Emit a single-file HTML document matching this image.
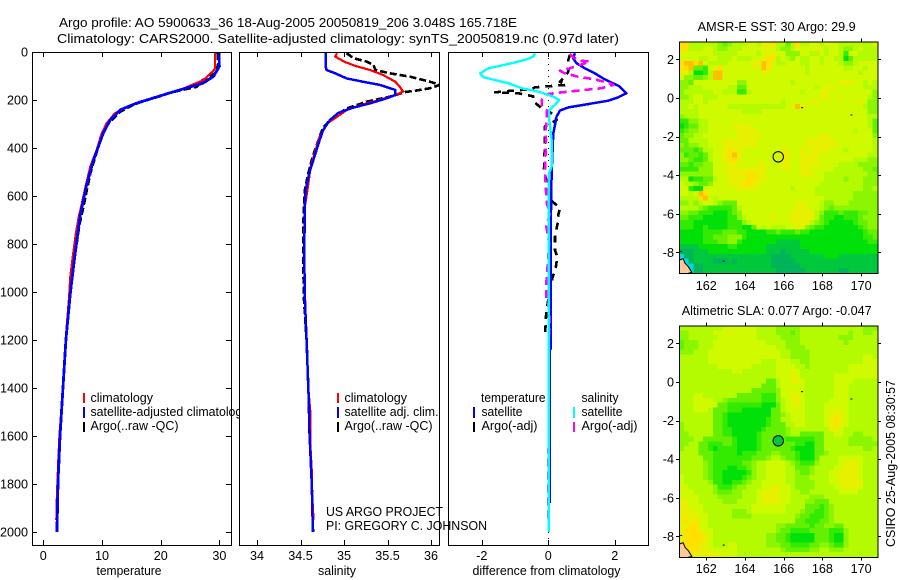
<!DOCTYPE html>
<html>
<head>
<meta charset="utf-8">
<title>Argo profile 5900633_36</title>
<style>
html,body{margin:0;padding:0;background:#fff;}
svg{display:block;}
text{font-family:"Liberation Sans",sans-serif;font-size:12.6px;fill:#000;}
</style>
</head>
<body>
<svg id="chart" xmlns="http://www.w3.org/2000/svg" width="900" height="580" viewBox="0 0 900 580">
  <rect x="0" y="0" width="900" height="580" fill="#fff"/>
  <text x="59" y="27" textLength="458" lengthAdjust="spacingAndGlyphs">Argo profile: AO 5900633_36 18-Aug-2005 20050819_206 3.048S 165.718E</text>
  <text x="57" y="43" textLength="562" lengthAdjust="spacingAndGlyphs">Climatology: CARS2000. Satellite-adjusted climatology: synTS_20050819.nc (0.97d later)</text>
  <g id="layer-temp"></g>
  <g id="legend-temp">
    <rect x="83" y="393" width="2" height="10" fill="#f00"/>
    <rect x="83" y="407" width="2" height="11" fill="#00f"/>
    <rect x="83" y="422" width="2" height="10" fill="#000"/>
    <text x="90.5" y="402" textLength="62.5" lengthAdjust="spacingAndGlyphs">climatology</text>
    <text x="90.5" y="416" textLength="158" lengthAdjust="spacingAndGlyphs">satellite-adjusted climatology</text>
    <text x="90.5" y="430" textLength="88" lengthAdjust="spacingAndGlyphs">Argo(..raw -QC)</text>
  </g>
  <g id="layer-sal"></g>
  <g id="legend-sal">
    <rect x="337" y="393" width="2" height="10" fill="#f00"/>
    <rect x="337" y="407" width="2" height="11" fill="#00f"/>
    <rect x="337" y="422" width="2" height="10" fill="#000"/>
    <text x="344.5" y="402" textLength="62.5" lengthAdjust="spacingAndGlyphs">climatology</text>
    <text x="344.5" y="416" textLength="94" lengthAdjust="spacingAndGlyphs">satellite adj. clim.</text>
    <text x="344.5" y="430" textLength="88" lengthAdjust="spacingAndGlyphs">Argo(..raw -QC)</text>
  </g>
  <g id="layer-diff"></g>
  <g id="legend-diff">
    <text x="481" y="402" textLength="64.5" lengthAdjust="spacingAndGlyphs">temperature</text>
    <rect x="473" y="407" width="2" height="11" fill="#00f"/>
    <text x="481.5" y="416" textLength="41" lengthAdjust="spacingAndGlyphs">satellite</text>
    <rect x="473" y="422" width="2" height="10" fill="#000"/>
    <text x="481.5" y="430" textLength="56" lengthAdjust="spacingAndGlyphs">Argo(-adj)</text>
    <text x="581.5" y="402" textLength="37" lengthAdjust="spacingAndGlyphs">salinity</text>
    <rect x="573" y="407" width="2" height="11" fill="#0ff"/>
    <text x="581.5" y="416" textLength="41" lengthAdjust="spacingAndGlyphs">satellite</text>
    <rect x="573" y="422" width="2" height="10" fill="#f0f"/>
    <text x="581.5" y="430" textLength="56" lengthAdjust="spacingAndGlyphs">Argo(-adj)</text>
  </g>
  <text x="326" y="516" textLength="117" lengthAdjust="spacingAndGlyphs">US ARGO PROJECT</text>
  <text x="326" y="530" textLength="161" lengthAdjust="spacingAndGlyphs">PI: GREGORY C. JOHNSON</text>
  <text x="129" y="575" text-anchor="middle" textLength="65" lengthAdjust="spacingAndGlyphs">temperature</text>
  <text x="337" y="575" text-anchor="middle" textLength="38" lengthAdjust="spacingAndGlyphs">salinity</text>
  <text x="546.5" y="575" text-anchor="middle" textLength="148" lengthAdjust="spacingAndGlyphs">difference from climatology</text>
  <text x="776.7" y="31" text-anchor="middle" textLength="158" lengthAdjust="spacingAndGlyphs">AMSR-E SST: 30 Argo: 29.9</text>
  <text x="776.7" y="315" text-anchor="middle" textLength="190" lengthAdjust="spacingAndGlyphs">Altimetric SLA: 0.077 Argo: -0.047</text>
  <g id="layer-sst"></g>
  <g id="layer-sla"></g>
  <text transform="translate(895,547) rotate(-90)" textLength="167" lengthAdjust="spacingAndGlyphs">CSIRO 25-Aug-2005 08:30:57</text>
</svg>
<script>
// ---- Profile data: pressure (dbar) and value arrays ----
const tempTicks = [0, 10, 20, 30];
const salTicks = [34, 34.5, 35, 35.5, 36];
const diffTicks = [-2, 0, 2];
const depthTicks = [0, 200, 400, 600, 800, 1000, 1200, 1400, 1600, 1800, 2000];

const tempClimDepth = [0,70,80,117,158,179,200,227,255,297,339,408,478,561,617,686,755,866,936,1019,1200,1400,1500,1600,1700,1800,1900,1950];
const tempClimVals = [29.25,29.25,28.9,27.3,23.3,20.4,17.6,14.5,12.2,10.8,9.95,9.1,8,7.2,6.7,6.05,5.55,4.95,4.6,4.4,3.8,3.3,3.05,2.75,2.56,2.4,2.25,2.22];
const tempSatDepth = [0,60,102,130,150,170,192,213,241,283,339,450,561,686,825,964,1019,1200,1400,1500,1600,1700,1800,1900,2000];
const tempSatVals = [29.9,30,29,27.2,24.4,21.6,18.7,15.9,13.1,11.4,10.2,8.55,7.3,6.25,5.5,4.8,4.55,3.85,3.35,3.1,2.85,2.65,2.5,2.4,2.33];
const tempArgoDepth = [4,50,70,90,120,145,160,170,180,205,220,250,305,370,505,658,725,895,1019,1200,1400,1600,1800,2000];
const tempArgoVals = [29.7,29.8,29.6,29.2,27,26.1,23.2,21.6,20.4,17,15.3,13,10.8,9.66,8,6.7,6.1,5.1,4.5,3.85,3.35,2.85,2.5,2.33];

const salClimDepth = [5,19,40,58,75,96,124,144,165,179,200,220,242,270,297,353,478,575,644,800,1000,1200,1400,1500,1650,1750,1850,1950];
const salClimVals = [34.92,34.9,35,35.13,35.3,35.45,35.59,35.64,35.68,35.59,35.41,35.2,35.03,34.92,34.81,34.72,34.617,34.58,34.55,34.54,34.55,34.57,34.59,34.613,34.615,34.63,34.635,34.65];
const salSatDepth = [0,61,75,89,110,124,137,158,179,193,214,235,255,283,325,367,436,505,575,644,783,894,1033,1200,1400,1500,1600,1700,1800,1900,2000];
const salSatVals = [34.79,34.79,34.8,34.9,35.03,35.22,35.41,35.59,35.59,35.49,35.3,35.07,34.93,34.84,34.76,34.72,34.66,34.6,34.56,34.55,34.545,34.545,34.55,34.57,34.59,34.6,34.605,34.617,34.63,34.635,34.644];
const salArgoDepth = [5,26,40,54,75,89,103,124,137,151,160,167,186,207,235,283,318,436,505,575,644,742,853,1033,1200,1400,1600,1800,2000];
const salArgoVals = [35.03,35.11,35.26,35.34,35.36,35.53,35.76,35.99,36.1,35.99,35.84,35.7,35.53,35.26,35.03,34.84,34.755,34.64,34.59,34.55,34.54,34.53,34.53,34.54,34.57,34.59,34.605,34.63,34.644];

const diffSalSatDepth = [5,19,33,50,68,89,105,117,130,151,165,186,200,220,244,283,367,478,505,644,1200,2000];
const diffSalSatVals = [-0.4,-0.45,-0.7,-1.2,-1.8,-2.05,-1.95,-1.6,-1.2,-0.8,-0.3,0.15,0.33,0.2,0.02,0.03,0.1,0.1,0.02,0.01,0.01,0.01];
const diffTempSatDepth = [5,26,47,68,89,110,124,144,172,189,203,217,231,244,269,339,505,672,1054,1060,1237,1240,1880];
const diffTempSatVals = [0.8,0.75,0.85,1.1,1.4,1.65,1.85,2.15,2.35,2.1,1.8,1.2,0.6,0.35,0.25,0.15,0.1,0.08,0.08,0.07,0.07,0.05,0.04];
const diffSalArgoDepth = [8,22,36,40,54,68,78,89,103,114,128,137,151,158,165,175,200,221,242,283,325,367,492,575,617,630,672,728,797,964,1019,1082,1137,1179,1200,1950];
const diffSalArgoVals = [0.65,0.75,0.95,1.25,0.95,0.65,0.35,0.5,0.9,1.4,1.8,1.95,1.6,1.1,0.6,0,-0.2,-0.2,-0.05,-0.05,-0.08,-0.07,-0.1,-0.07,-0.05,-0.05,0.05,-0.06,0.03,-0.06,-0.06,0.04,0.04,0.03,0.02,0];
const diffTempArgoDepth = [12,33,68,82,103,124,137,147,155,160,168,172,185,205,235,262,283,310,367,492,617,651,679,714,769,825,853,894,943,1012,1075,1137,1176,1185,1880];
const diffTempArgoVals = [0.65,0.6,0.62,0.6,0.5,0.35,0.55,-0.4,-0.5,-1,-1.6,-0.9,-0.45,-0.45,-0.2,0.2,0.25,-0.1,-0.1,-0.13,0.08,0.35,0.3,0.28,0.2,0.2,0.27,0.23,0.12,0.03,-0.06,-0.08,-0.1,0.03,0.03];

// ---- Map data: one character per 0.25-degree cell, level index into mapLevels ----
const mapLevels = "c0123456789A";
const sstRows = [
"9966666654 5666776889 6646966776 7776666666 7",
"9966677655 6667777887 6556877787 6776556766 6",
"8777777666 6677776788 7755577667 6776377666 6",
"7777667766 6766677899 6765766776 7766246666 6",
"9AA9A76666 7777788A97 6677766776 7776556777 7",
"99A4437797 7777787A97 7777776777 7777667767 7",
"8862236AA7 7777777877 7777776777 7777777677 7",
"7554456AA7 7777777777 7777777777 7777777777 7",
"5547777777 7755777777 7776777777 7778887767 6",
"5566677777 6644777777 7777777767 8877777766 6",
"5666666776 6633677777 7777767778 8777777777 5",
"5567766677 7777777777 7777777778 8778777776 5",
"6667767777 7777777777 7677777887 7777777875 5",
"6676777777 6666666666 6677A87777 7777777765 5",
"6666777777 7776666777 7777777777 7777777775 5",
"5666777777 7777777777 7777777777 7777777776 6",
"3355667777 7777777777 7777777777 7777777776 4",
"2344667777 7888877777 7777777777 7777777776 4",
"3455667777 7788887777 7777777777 7777776777 4",
"4556677777 7788888777 7777777778 8777777777 5",
"4466667778 8888887777 7777778888 8877777777 6",
"5455667778 8888887777 7777778888 8887777777 6",
"4443466778 9887777777 7887787888 8777677777 6",
"5344346778 9A87777777 7887788887 7777777776 6",
"5543346778 9987777777 7887788887 7777776665 5",
"4434455777 8877778877 7887788887 7776666555 5",
"3333555778 8888888877 7787788777 7766666655 4",
"5555555777 8888998877 7777788877 6666666665 5",
"6623344677 8888998877 7777777777 6666566655 5",
"7665445777 8889988777 7777777776 6666666655 5",
"7732277777 7788887777 7776777766 6666666655 6",
"7767A97777 7777777777 7777777766 6666665555 5",
"66669A7677 7777777777 7777777777 6666665555 5",
"5565677654 4477777777 7777887776 5566655555 5",
"6666543333 3467777777 7777888776 5455555555 5",
"5544333222 3457777777 7778888865 3334333445 5",
"4433322222 3356777778 7778888864 3322333455 5",
"3332222222 3335677777 7778888654 3222223445 5",
"3332232222 3332247676 6677885433 2222222345 5",
"2222233334 4433222233 4333433222 2222222234 4",
"2222233444 5553222222 2222222222 2222222233 4",
"2222233344 5532222222 1111122222 2222222223 3",
"1111222222 3322222211 1111122222 2222222222 2",
"0001112222 2222222211 1011111222 2222222222 2",
"c001111111 1111111110 0001111111 2221111111 1",
"cc01111000 1011111110 0000111111 1111111111 1",
"ccc0011111 1111111110 0000011111 1111111111 1",
"ccc0011111 1111111111 0000001111 1110011111 1"
];
const slaRows = [
"6666666667 7777776666 5555566666 6666666655 5",
"5566666777 8777776666 5554566666 6666656655 6",
"5566666677 7777776666 6555566666 6665556666 6",
"4555666777 7777777766 6655566666 6666566666 6",
"4555666777 7777777777 6655556666 6666666666 6",
"5556667777 7777777777 7665555666 6666666666 6",
"6666667777 7777777777 7665555666 6666666677 6",
"6666667777 7777777666 7776655666 6666666677 7",
"6666666677 7777766666 7777665666 6666677777 7",
"6666666666 6776666666 7778766666 6666677777 7",
"6666666666 6666666666 7778766666 6677777777 7",
"6666666666 6666666644 6778876666 6677776666 6",
"6666666666 6666666444 6777776666 6677766666 6",
"6666666666 6666644444 5777776666 6677766666 6",
"6667766666 6644444333 5778876666 6677766666 6",
"6667777665 4444444333 5678876666 6777766666 6",
"6667777744 3333333222 4677876666 7777766666 6",
"6667776444 3332222224 4677776666 7787766666 6",
"6666666443 2222222224 4567776666 7888766666 6",
"6666666443 2222222234 4667776666 7898766666 6",
"5666666443 2222222234 4466776666 7898766666 6",
"5666666443 3222222344 4456666666 6887666666 6",
"5566666443 3222223444 4456644444 6677665566 6",
"5556644444 4322223444 4433333344 6666655555 6",
"5566443334 4322223444 4444332244 6666655555 5",
"5666443233 3322223444 4443222244 6666666655 6",
"6666444333 3323334445 5444322244 5666666666 6",
"6666644333 3333344456 6544322246 6667777766 6",
"6666654333 3334456677 7765433356 6667888766 6",
"6666654333 2233456677 7766444566 6677888766 6",
"6666654332 2222356677 7766544566 6778888766 6",
"7666654332 2223456677 7766555666 6778888766 6",
"7666665332 2334566777 7766555566 6778888866 6",
"7766666533 3455666778 8776555566 6677888766 6",
"7776666544 4556667888 8776655666 6667777666 6",
"7777666655 5556667888 8776666555 6666666666 6",
"8877666665 5566667888 8776665544 4666666666 6",
"8877766666 6666677777 7766664443 4566666666 6",
"8887766666 6555677777 7766654433 4566666666 6",
"8888776666 6555566666 6666544333 4566666666 6",
"8989776666 6666666666 6666443334 4566666666 6",
"8899776666 6666666666 5544444344 5544666666 6",
"8999877666 6666666666 5443333444 4333566666 6",
"8999987666 6666666655 4432222244 4322566666 6",
"8999987666 6666666655 4432222244 4322566666 6",
"8999887666 7766666655 5443333445 5433566666 6",
"8899887777 7766666666 6544444556 6555666666 6",
"8888888877 7766666666 6666666666 6666666666 6"
];
const lonTicks = [162, 164, 166, 168, 170];
const latTicks = [2, 0, -2, -4, -6, -8];
const floatLon = 165.718;
const floatLat = -3.048;
const coastLon = [160.55, 160.8, 160.9, 161.07, 161.25, 160.95, 160.55];
const coastLat = [-8.42, -8.32, -8.56, -8.74, -9.03, -9.12, -9.12];
const isletLon = [166.95, 169.5, 162.9, 160.7];
const isletLat = [-0.5, -0.88, -8.45, -7.95];

// ---- Colours and helpers ----
const levelColors = ["#00d8e0","#00b45a","#00c83c","#00e10a","#32eb00","#64f000","#8cf500","#b4fa00","#d0fa00","#e6f000","#ffe100","#ffbe00"];
const svg = document.getElementById('chart');
const NS = 'http://www.w3.org/2000/svg';
function make(parent, tag, attrs, text) {
  const el = document.createElementNS(NS, tag);
  for (const k in attrs) el.setAttribute(k, attrs[k]);
  if (text !== undefined) el.textContent = text;
  parent.appendChild(el);
  return el;
}
const yDepth = z => 52 + 0.24 * z;
const xTemp = v => 43.3 + 5.87 * v;
const xSal = v => 257 + 87 * (v - 34);
const xDiff = v => 548.3 + 33.25 * v;

function drawPanel(layerId, left, right, xScale, xTicks, showDepth, clipId) {
  const g = document.getElementById(layerId);
  const top = 52, bottom = 545;
  const defs = make(g, 'clipPath', {id: clipId});
  make(defs, 'rect', {x: left, y: top, width: right - left, height: bottom - top});
  const bg = make(g, 'rect', {x: left, y: top, width: right - left, height: bottom - top, fill: '#fff', stroke: 'none'});
  
  
  return {g, left, right, top, bottom, xScale, xTicks, showDepth, clipId};
}
function finishPanel(p) {
  const frame = make(p.g, 'rect', {x: p.left + 0.5, y: p.top + 0.5, width: p.right - p.left, height: p.bottom - p.top, fill: 'none', stroke: '#000', 'stroke-width': 1, 'shape-rendering': 'crispEdges'});
  
  
  p.xTicks.forEach(v => {
    const x = Math.round(p.xScale(v)) + 0.5;
    const t1 = make(p.g, 'path', {d: `M${x} ${p.bottom}v-5M${x} ${p.top}v5`, stroke: '#000', fill: 'none', 'shape-rendering': 'crispEdges'});
    
    
    const lab = make(p.g, 'text', {x: p.xScale(v), y: 560, 'text-anchor': 'middle'}, String(v));
    
    
  });
  if (p.showDepth) {
    depthTicks.forEach(z => {
      const y = Math.round(yDepth(z)) + 0.5;
      const t2 = make(p.g, 'path', {d: `M${p.left} ${y}h5M${p.right} ${y}h-5`, stroke: '#000', fill: 'none', 'shape-rendering': 'crispEdges'});
      
      
      const lab = make(p.g, 'text', {x: 28, y: yDepth(z) + 4.5, 'text-anchor': 'end'}, String(z));
      
      
    });
  }
}
function drawLine(p, depth, vals, color, width, dash, name) {
  const d = vals.map((v, i) => (i ? 'L' : 'M') + p.xScale(v).toFixed(2) + ' ' + yDepth(depth[i]).toFixed(2)).join('');
  const path = make(p.g, 'path', {d: d, fill: 'none', stroke: color, 'stroke-width': width, 'clip-path': `url(#${p.clipId})`, 'shape-rendering': 'crispEdges', 'stroke-linejoin': 'round'});
  if (dash) path.setAttribute('stroke-dasharray', dash);
  
  
}

// Temperature panel
const pT = drawPanel('layer-temp', 32, 231, xTemp, tempTicks, true, 'clip-temp');
drawLine(pT, tempArgoDepth, tempArgoVals, '#000', 2.8, '7 3', 'temperature-argo-line');
drawLine(pT, tempClimDepth, tempClimVals, '#f00', 2.2, null, 'temperature-climatology-line');
drawLine(pT, tempSatDepth, tempSatVals, '#00f', 2.8, null, 'temperature-satellite-line');
finishPanel(pT);

// Salinity panel
const pS = drawPanel('layer-sal', 239, 439, xSal, salTicks, false, 'clip-sal');
drawLine(pS, salArgoDepth, salArgoVals, '#000', 2.6, '7 3', 'salinity-argo-line');
drawLine(pS, salClimDepth, salClimVals, '#f00', 2.2, null, 'salinity-climatology-line');
drawLine(pS, salSatDepth, salSatVals, '#00f', 2.5, null, 'salinity-satellite-line');
finishPanel(pS);

// Difference panel
const pD = drawPanel('layer-diff', 448, 648, xDiff, diffTicks, false, 'clip-diff');
const zeroLine = make(pD.g, 'path', {d: `M${xDiff(0)} ${pD.top}V${pD.bottom}`, stroke: '#000', 'stroke-dasharray': '1 5', fill: 'none', 'shape-rendering': 'crispEdges'});


drawLine(pD, diffTempArgoDepth, diffTempArgoVals, '#000', 2.6, '7 6', 'difference-temperature-argo-line');
drawLine(pD, diffTempSatDepth, diffTempSatVals, '#00f', 2.5, null, 'difference-temperature-satellite-line');
drawLine(pD, diffSalArgoDepth, diffSalArgoVals, '#f0f', 2.6, '8 5', 'difference-salinity-argo-line');
drawLine(pD, diffSalSatDepth, diffSalSatVals, '#0ff', 2.4, null, 'difference-salinity-satellite-line');
finishPanel(pD);

// Maps
const mapLeft = 679, mapRight = 878, mapLon0 = 160.59, mapLat0 = 2.93, cellDeg = 0.25;
const xLon = lon => 706.3 + 19.35 * (lon - 162);
function drawMap(layerId, rows, top, zeroY, tickBaseY, markerFill, clipId) {
  const g = document.getElementById(layerId);
  const height = 231.5;
  const yLat = lat => zeroY - 19.3 * lat;
  const clip = make(g, 'clipPath', {id: clipId});
  make(clip, 'rect', {x: mapLeft, y: top, width: mapRight - mapLeft, height: height});
  const cells = make(g, 'g', {'clip-path': `url(#${clipId})`, 'shape-rendering': 'crispEdges'});
  
  
  rows.forEach((rowRaw, r) => {
    const row = rowRaw.replace(/\s/g, '');
    for (let c = 0; c < row.length; c++) {
      const level = mapLevels.indexOf(row[c]);
      const x0 = xLon(mapLon0 + c * cellDeg), x1 = xLon(mapLon0 + (c + 1) * cellDeg);
      const y0 = yLat(mapLat0 - r * cellDeg), y1 = yLat(mapLat0 - (r + 1) * cellDeg);
      const cell = make(cells, 'rect', {x: x0.toFixed(2), y: y0.toFixed(2), width: (x1 - x0 + 0.6).toFixed(2), height: (y1 - y0 + 0.6).toFixed(2), fill: levelColors[level]});
      
      
    }
  });
  const coast = make(g, 'polygon', {points: coastLon.map((lo, i) => xLon(lo).toFixed(1) + ',' + yLat(coastLat[i]).toFixed(1)).join(' '), fill: '#ffc896', stroke: '#000', 'stroke-width': 1, 'clip-path': `url(#${clipId})`});
  
  
  isletLon.forEach((lo, i) => {
    const islet = make(g, 'rect', {x: xLon(lo) - 1, y: yLat(isletLat[i]) - 0.5, width: 2, height: 1, fill: '#000', 'clip-path': `url(#${clipId})`});
    
    
  });
  const marker = make(g, 'circle', {cx: xLon(floatLon), cy: yLat(floatLat), r: 5.2, fill: markerFill, stroke: '#000', 'stroke-width': 1});
  
  
  const frame = make(g, 'rect', {x: mapLeft + 0.5, y: top + 0.5, width: mapRight - mapLeft - 0.5, height: height, fill: 'none', stroke: '#000', 'stroke-width': 1, 'shape-rendering': 'crispEdges'});
  
  
  lonTicks.forEach(lon => {
    const x = Math.round(xLon(lon)) + 0.5;
    const t = make(g, 'path', {d: `M${x} ${top}v-3M${x} ${top + height + 0.5}v3`, stroke: '#000', fill: 'none', 'shape-rendering': 'crispEdges'});
    
    
    const lab = make(g, 'text', {x: xLon(lon), y: tickBaseY, 'text-anchor': 'middle'}, String(lon));
    
    
  });
  latTicks.forEach(lat => {
    const y = Math.round(yLat(lat)) + 0.5;
    const t = make(g, 'path', {d: `M${mapLeft} ${y}h-3M${mapRight} ${y}h3`, stroke: '#000', fill: 'none', 'shape-rendering': 'crispEdges'});
    
    
    const lab = make(g, 'text', {x: 674, y: yLat(lat) + 4.5, 'text-anchor': 'end'}, String(lat));
    
    
  });
}
drawMap('layer-sst', sstRows, 41.5, 98, 290, 'none', 'clip-sst');
drawMap('layer-sla', slaRows, 325.5, 382, 573, '#00c83c', 'clip-sla');
</script>
</body>
</html>
